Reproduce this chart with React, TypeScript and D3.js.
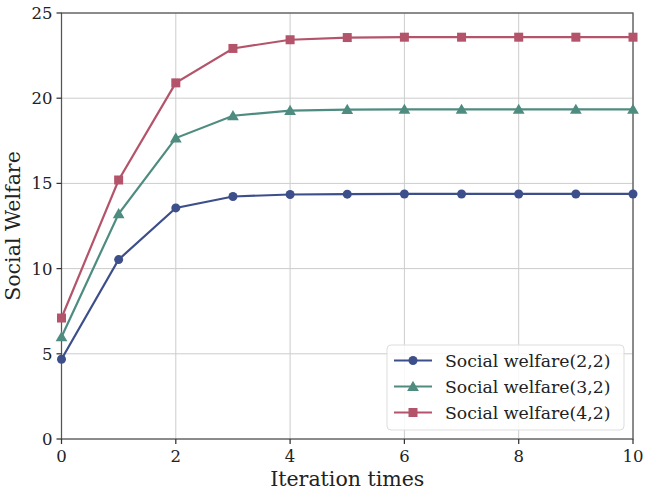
import React from 'react';
import * as d3 from 'd3';

const iterations = [0, 1, 2, 3, 4, 5, 6, 7, 8, 9, 10];
const welfare22 = [4.68, 10.53, 13.56, 14.23, 14.35, 14.37, 14.38, 14.38, 14.38, 14.38, 14.38];
const welfare32 = [5.99, 13.22, 17.66, 18.97, 19.27, 19.33, 19.34, 19.34, 19.34, 19.34, 19.34];
const welfare42 = [7.1, 15.2, 20.9, 22.92, 23.43, 23.56, 23.58, 23.58, 23.58, 23.58, 23.58];
const xTicks = [0, 2, 4, 6, 8, 10];
const yTicks = [0, 5, 10, 15, 20, 25];

const series = [
  { name: 'Social welfare(2,2)', values: welfare22, color: '#3d4f8b', marker: 'circle' },
  { name: 'Social welfare(3,2)', values: welfare32, color: '#4f8c80', marker: 'triangle' },
  { name: 'Social welfare(4,2)', values: welfare42, color: '#b4546a', marker: 'square' },
];

const W = 645;
const H = 492;
const m = { left: 61.5, right: 12, top: 13, bottom: 53 };
const font = '"DejaVu Serif", serif';

const Marker: React.FC<{ type: string; x: number; y: number; color: string }> = ({ type, x, y, color }) => {
  if (type === 'circle') return <circle cx={x} cy={y} r={4.5} fill={color} />;
  if (type === 'square') return <rect x={x - 4.5} y={y - 4.5} width={9} height={9} fill={color} />;
  const sym = d3.symbol().type(d3.symbolTriangle).size(60)();
  return <path d={sym || ''} transform={`translate(${x},${y + 1})`} fill={color} />;
};

export default function App() {
  const x = d3.scaleLinear().domain([0, 10]).range([m.left, W - m.right]);
  const y = d3.scaleLinear().domain([0, 25]).range([H - m.bottom, m.top]);
  const line = d3.line<number>().x((_, i) => x(iterations[i])).y(d => y(d));

  const lx = 387;
  const ly = 345;

  return (
    <svg width={W} height={H} style={{ position: 'absolute', left: 0, top: 0 }} fontFamily={font}>
      <rect width={W} height={H} fill="#fff" />
      {/* grid */}
      {xTicks.map(t => (
        <line key={'gx' + t} x1={x(t)} x2={x(t)} y1={y(0)} y2={y(25)} stroke="#cccccc" strokeWidth={1} />
      ))}
      {yTicks.map(t => (
        <line key={'gy' + t} x1={x(0)} x2={x(10)} y1={y(t)} y2={y(t)} stroke="#cccccc" strokeWidth={1} />
      ))}
      {/* spines */}
      <rect x={x(0)} y={y(25)} width={x(10) - x(0)} height={y(0) - y(25)} fill="none" stroke="#555" strokeWidth={1.25} />
      {/* ticks */}
      {xTicks.map(t => (
        <g key={'tx' + t}>
          <line x1={x(t)} x2={x(t)} y1={y(0)} y2={y(0) + 5} stroke="#333" strokeWidth={1.25} />
          <text x={x(t)} y={y(0) + 23} textAnchor="middle" fontSize={16.5} fill="#222">{t}</text>
        </g>
      ))}
      {yTicks.map(t => (
        <g key={'ty' + t}>
          <line x1={x(0) - 5} x2={x(0)} y1={y(t)} y2={y(t)} stroke="#333" strokeWidth={1.25} />
          <text x={x(0) - 9} y={y(t) + 6} textAnchor="end" fontSize={16.5} fill="#222">{t}</text>
        </g>
      ))}
      {/* series */}
      {series.map(s => (
        <g key={s.name}>
          <path d={line(s.values) || ''} fill="none" stroke={s.color} strokeWidth={2.2} />
          {s.values.map((v, i) => (
            <Marker key={i} type={s.marker} x={x(iterations[i])} y={y(v)} color={s.color} />
          ))}
        </g>
      ))}
      {/* labels */}
      <text x={(x(0) + x(10)) / 2} y={486} textAnchor="middle" fontSize={20.5} fill="#222">Iteration times</text>
      <text transform={`translate(20,${(y(0) + y(25)) / 2}) rotate(-90)`} textAnchor="middle" fontSize={20.5} fill="#222">Social Welfare</text>
      {/* legend */}
      <rect x={lx} y={ly} width={237} height={85} rx={4} fill="#fff" fillOpacity={0.85} stroke="#dddddd" />
      {series.map((s, i) => {
        const cy = ly + 15.5 + i * 26;
        return (
          <g key={'lg' + s.name}>
            <line x1={lx + 7} x2={lx + 45} y1={cy} y2={cy} stroke={s.color} strokeWidth={2.2} />
            <Marker type={s.marker} x={lx + 26} y={cy} color={s.color} />
            <text x={lx + 58} y={cy + 6} fontSize={17.3} fill="#222">{s.name}</text>
          </g>
        );
      })}
    </svg>
  );
}
